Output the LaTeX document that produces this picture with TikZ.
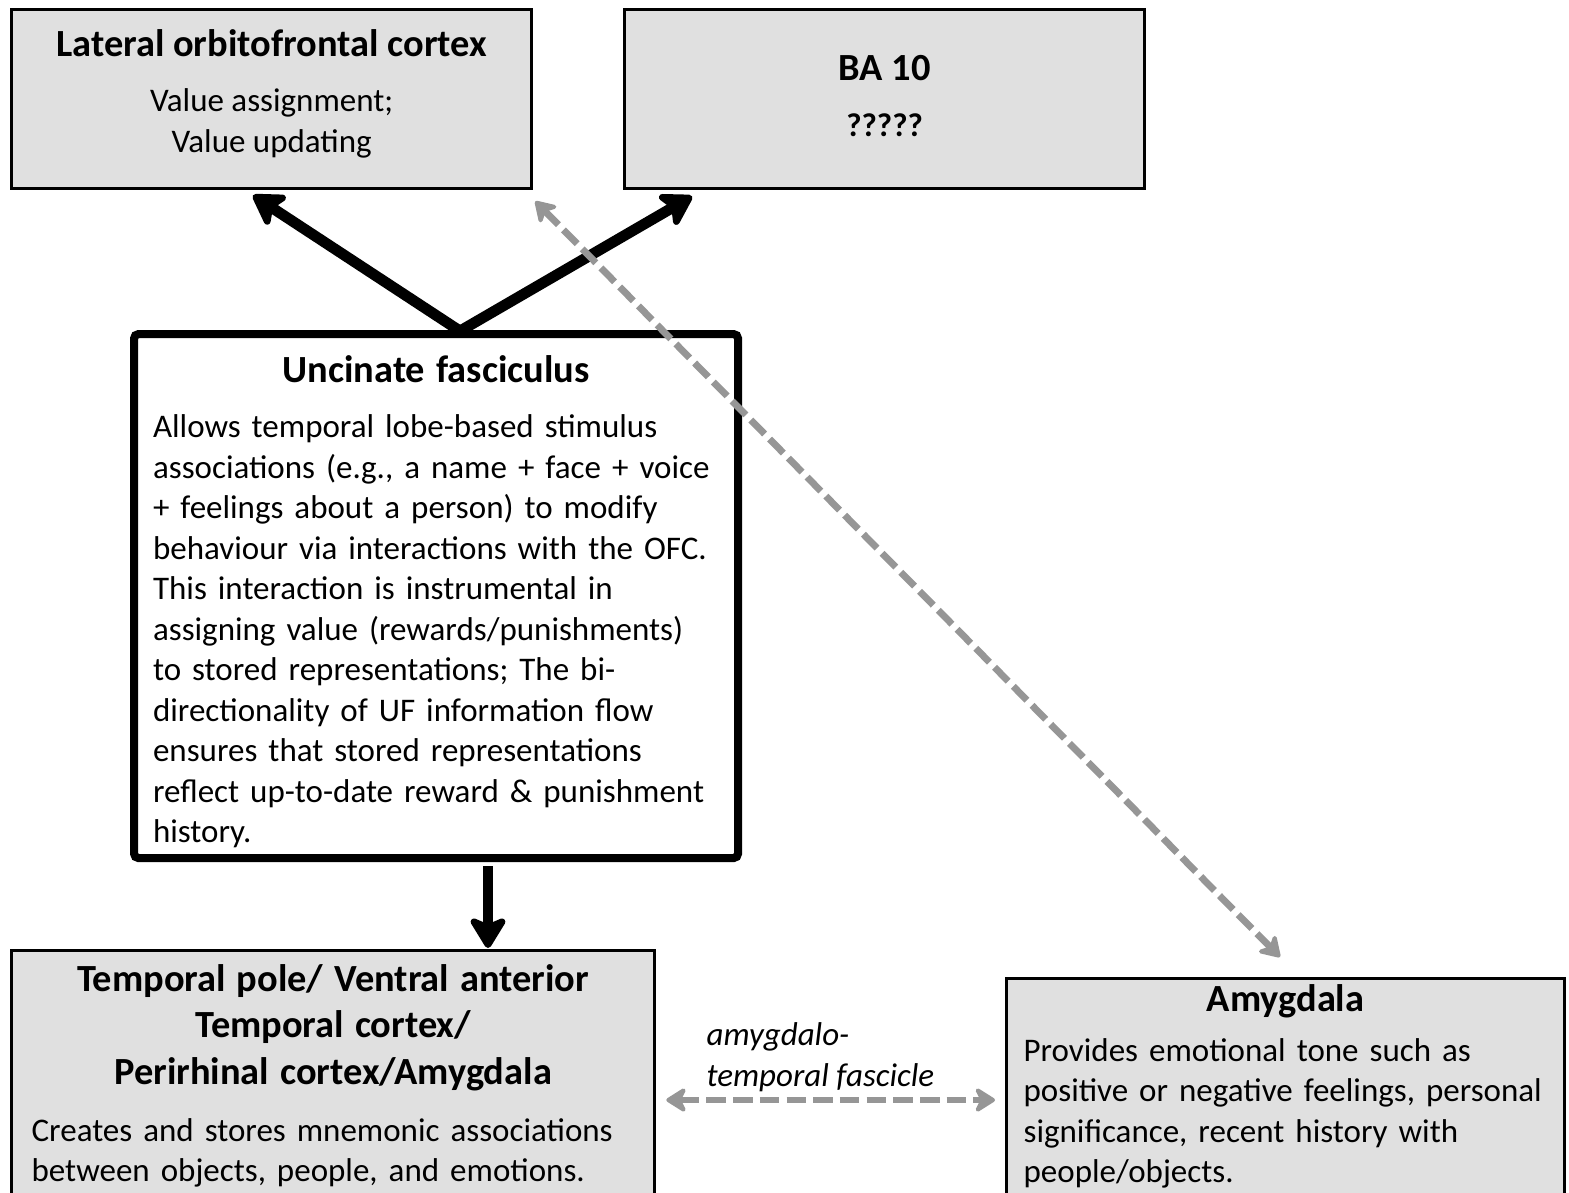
\documentclass[tikz,border=0pt]{standalone}
\usepackage{fontspec}
\setmainfont{Carlito}
\usetikzlibrary{arrows.meta,calc}
\definecolor{boxgrey}{RGB}{224,224,224}
\definecolor{linkgrey}{RGB}{150,150,150}
\newcommand{\pxsize}{0.3333pt}
\newcommand{\titlesize}{\fontsize{12.8}{15.5}\selectfont\bfseries}
\newcommand{\bodysize}{\fontsize{11}{13.5}\selectfont}

\begin{document}
\begin{tikzpicture}[x=\pxsize,y=-\pxsize,
	region/.style={draw, line width=1.1pt, fill=boxgrey, anchor=north west, inner xsep=0pt, font=\bodysize},
	hub/.style={draw, line width=2.7pt, fill=white, rounded corners=1.5pt, anchor=north west, inner sep=0pt, font=\bodysize},
	tract/.style={line width=3.6pt, -{Stealth[round,length=12pt,width=14.5pt,inset=3pt]}},
	link/.style={draw=linkgrey, line width=2.3pt, dash pattern=on 6.5pt off 2.4pt,
		{Stealth[round,length=8pt,width=10pt,inset=2.5pt]}-{Stealth[round,length=8pt,width=10pt,inset=2.5pt]}}]

	\useasboundingbox (0,0) rectangle (1569,1192);
	\clip (0,0) rectangle (1569,1192);

	% frontal targets
	\node[region, minimum width={520*\pxsize}, minimum height={179*\pxsize}, align=center, text depth=5.5pt] (lofc) at (10,8)
		{{\titlesize Lateral orbitofrontal cortex}\\[5pt] Value assignment;\\ Value updating};
	\node[region, minimum width={520*\pxsize}, minimum height={179*\pxsize}, align=center, text depth=2pt] (ba) at (623,8)
		{{\titlesize BA 10}\\[5pt] {\bfseries ?????}};

	% the tract itself
	\node[hub, minimum width={604*\pxsize}, minimum height={524*\pxsize}, text width={566*\pxsize}] (uf) at (130,330)
		{{\centering\titlesize\rule{0pt}{12.8pt}Uncinate fasciculus\par}\vspace{5pt}\raggedright
		Allows temporal lobe-based stimulus\\
		associations (e.g., a name + face + voice\\
		+ feelings about a person) to modify\\
		behaviour via interactions with the OFC.\\
		This interaction is instrumental in\\
		assigning value (rewards/punishments)\\
		to stored representations; The bi-\\
		directionality of UF information flow\\
		ensures that stored representations\\
		reflect up-to-date reward \& punishment\\
		history.};

	% temporal targets
	\node[region, inner ysep=4.5pt, minimum width={643*\pxsize}, text width={603*\pxsize}] (tp) at (10,949)
		{{\centering\titlesize Temporal pole/ Ventral anterior\\ Temporal cortex/\\ Perirhinal cortex/Amygdala\par}\vspace{5.5pt}\raggedright
		Creates and stores mnemonic associations\\
		between objects, people, and emotions.\par\vspace{60pt}};
	\node[region, inner ysep=2pt, minimum width={558*\pxsize}, text width={524*\pxsize}] (amy) at (1005,977)
		{{\centering\titlesize Amygdala\par}\vspace{3pt}\raggedright
		Provides emotional tone such as\\
		positive or negative feelings, personal\\
		significance, recent history with\\
		people/objects.\par\vspace{60pt}};

	\draw[tract] ($(uf.north west)+(330,1)$) -- ($(lofc.south west)+(243,5)$);
	\draw[tract] ($(uf.north west)+(330,1)$) -- ($(ba.south west)+(69,6)$);
	\draw[tract] ($(uf.south west)+(358,4)$) -- ($(tp.north west)+(478,-1)$);

	\draw[link] ($(lofc.south east)+(2,11)$) -- ($(amy.north west)+(275,-20)$);
	\draw[link] ($(tp.north east)+(10,151)$) -- ($(amy.north west)+(-10,123)$);
	\node[font=\bodysize\itshape, align=left, anchor=south west, inner sep=0pt] (atf) at (706,1092)
		{amygdalo-\\temporal fascicle};

\end{tikzpicture}
\end{document}
